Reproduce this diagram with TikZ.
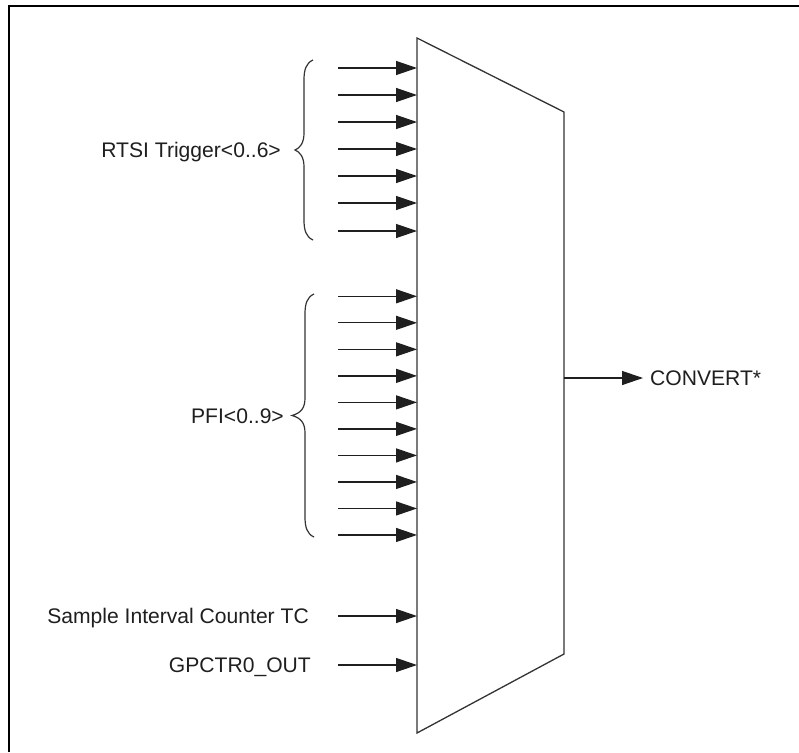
\documentclass[tikz,border=0pt]{standalone}
\usepackage{fontspec}
\setmainfont{Liberation Sans}
\usetikzlibrary{arrows.meta}
\tikzset{
  wire/.style={line width=1.3pt, draw=black!88, -{Triangle[length=21pt,width=14pt]}},
  muxbox/.style={line width=1.3pt, draw=black!80},
  lbl/.style={inner sep=0pt, font=\fontsize{21.1}{25}\selectfont, text=black!88},
  bracepath/.style={line width=1.2pt, draw=black!80},
  frameline/.style={line width=2.2pt, draw=black}
}
\begin{document}
\begin{tikzpicture}[x=1pt,y=-1pt]
\useasboundingbox (0,0) rectangle (799,752);
\fill[white] (0,0) rectangle (799,752);
% frame (only top and left edges visible)
\draw[frameline] (9,752) -- (9,6) -- (799,6);
% multiplexer
\coordinate (TL) at (417,38);
\coordinate (TR) at (564,112);
\coordinate (BR) at (564,654);
\coordinate (BL) at (417,733);
\draw[muxbox] (TL) -- (TR) -- (BR) -- (BL) -- cycle;
% RTSI inputs
\foreach \i/\y in {0/68,1/95,2/122,3/149,4/176,5/203,6/231}{
  \coordinate (r\i) at (338,\y);
  \coordinate (rm\i) at (417,\y);
  \draw[wire] (r\i) -- (rm\i);
}
% PFI inputs
\foreach \i in {0,...,9}{
  \pgfmathsetmacro{\yy}{296.3+26.52*\i}
  \coordinate (p\i) at (338,\yy);
  \coordinate (pm\i) at (417,\yy);
  \draw[wire] (p\i) -- (pm\i);
}
% other inputs
\coordinate (s0) at (338,616);
\coordinate (sm) at (417,616);
\draw[wire] (s0) -- (sm);
\coordinate (g0) at (338,665);
\coordinate (gm) at (417,665);
\draw[wire] (g0) -- (gm);
% output
\coordinate (oa) at (564,378);
\coordinate (ob) at (643,378);
\draw[wire] (oa) -- (ob);
% braces
\draw[bracepath] (313,60) .. controls (306,63) and (304,70) .. (304,80) -- (304,133)
  .. controls (304,143) and (300,148) .. (295,150) .. controls (300,152) and (304,157) .. (304,167)
  -- (304,220) .. controls (304,230) and (306,237) .. (313,240);
\draw[bracepath] (314,294) .. controls (307,297) and (305,304) .. (305,314) -- (305,398)
  .. controls (305,408) and (301,413) .. (292,415.5) .. controls (301,418) and (305,423) .. (305,433)
  -- (305,517) .. controls (305,527) and (307,534) .. (314,537);
% labels
\node[lbl, anchor=base east] (rtsi) at (281,157) {RTSI Trigger<0..6>};
\node[lbl, anchor=base east] (pfi) at (284,423) {PFI<0..9>};
\node[lbl, anchor=base east] (sic) at (309,623.5) {Sample Interval Counter TC};
\node[lbl, anchor=base east] (gp) at (311,672.5) {GPCTR0\_OUT};
\node[lbl, anchor=base west] (conv) at (650,385.5) {CONVERT*};
\end{tikzpicture}
\end{document}
